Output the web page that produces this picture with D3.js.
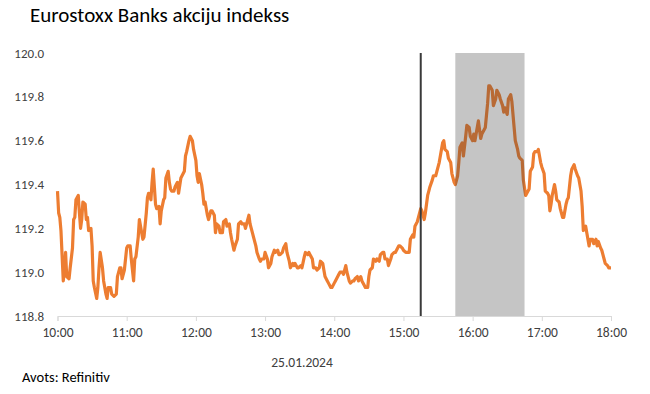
<!DOCTYPE html>
<html>
<head>
<meta charset="utf-8">
<script src="https://cdn.jsdelivr.net/npm/d3@7"></script>
<style>
  html, body { margin: 0; padding: 0; background: #fff; }
  svg { display: block; }
  text { font-family: Carlito, Lato, "Liberation Sans", sans-serif; }
</style>
</head>
<body>
<svg id="chart" width="650" height="394"></svg>
<script>
// ---- Data ----
const title = "Eurostoxx Banks akciju indekss";
const dateLabel = "25.01.2024";
const sourceLabel = "Avots: Refinitiv";
const tradeDate = "2024-01-25";
const startTime = "10:00";
const endTime = "18:00";
const markerTime = "15:15";
const shadeStart = "15:45";
const shadeEnd = "16:45";
const xTickLabels = ["10:00","11:00","12:00","13:00","14:00","15:00","16:00","17:00","18:00"];
const yTicks = [118.8, 119.0, 119.2, 119.4, 119.6, 119.8, 120.0];
const yDomain = [118.8, 120.0];

// minutes after 10:00
const minuteOffsets = [
0,1,2,3,5,6,7,8,10,11,13,14,15,16,18,19,20,21,22,24,25,26,27,29,30,31,32,34,35,36,37,39,40,42,43,44,46,47,49,51,52,54,55,56,58,60,61,63,64,66,
67,68,70,71,73,74,75,77,78,79,81,82,83,84,85,86,88,89,90,92,93,94,96,97,98,99,101,102,104,105,107,108,110,111,112,114,115,117,118,120,121,122,123,125,126,127,128,
130,131,133,134,136,137,138,140,141,143,144,146,147,149,150,151,153,154,156,157,159,160,162,163,164,166,167,169,170,172,173,175,176,177,179,180,182,183,185,186,188,189,191,192,193,195,196,198,199,201,
202,204,205,206,208,209,211,212,214,215,217,218,219,221,222,224,225,227,228,230,231,232,234,235,237,238,240,241,243,244,245,247,248,250,251,253,254,256,257,258,260,261,263,264,266,267,269,270,
271,273,274,276,277,279,280,282,283,284,286,287,289,290,292,293,295,296,297,299,300,302,303,305,306,308,309,310,312,313,315,316,318,319,321,322,323,325,326,328,329,331,332,334,335,336,338,339,341,342,344,345,
347,348,349,351,352,354,355,357,358,360,361,362,364,365,367,368,370,371,373,374,375,377,378,380,381,383,384,386,387,388,390,391,393,394,396,397,399,400,401,403,404,406,407,409,410,412,413,414,416,417,419,420,422,423,425,426,427,428,429,431,432,433,435,436,438,439,441,442,443,445,446,448,449,451,452,454,455,456,458,459,461,462,464,465,467,468,469,471,472,474,475,477,478,480
];
const indexValues = [
119.37,119.27,119.25,119.19,118.96,119.01,119.09,118.98,118.97,119.02,119.11,119.24,119.25,119.33,119.35,119.27,119.20,119.24,119.32,119.31,119.24,119.25,119.19,119.20,119.12,118.96,118.93,118.88,118.93,119.02,119.09,119.02,118.96,118.90,118.88,118.93,118.93,118.90,118.89,118.90,118.98,119.02,119.02,118.97,119.01,119.11,119.12,119.12,119.06,118.96,
119.06,119.07,119.16,119.24,119.18,119.15,119.16,119.27,119.34,119.36,119.33,119.41,119.47,119.39,119.31,119.29,119.30,119.22,119.28,119.33,119.34,119.43,119.46,119.41,119.38,119.37,119.37,119.39,119.41,119.36,119.43,119.44,119.46,119.53,119.55,119.60,119.62,119.60,119.56,119.51,119.44,119.41,119.45,119.40,119.36,119.31,119.32,
119.26,119.24,119.28,119.28,119.26,119.18,119.22,119.21,119.18,119.18,119.23,119.24,119.21,119.22,119.18,119.15,119.10,119.12,119.15,119.22,119.23,119.22,119.22,119.20,119.22,119.26,119.22,119.18,119.16,119.12,119.09,119.06,119.05,119.06,119.06,119.09,119.06,119.02,119.04,119.07,119.10,119.09,119.10,119.08,119.08,119.09,119.11,119.13,119.09,119.05,
119.02,119.04,119.03,119.04,119.02,119.02,119.03,119.02,119.07,119.09,119.08,119.09,119.08,119.06,119.02,119.02,119.01,119.02,119.05,119.04,119.01,118.98,118.96,118.95,118.93,118.93,118.95,118.96,118.98,118.99,119.00,119.00,118.99,119.03,119.00,118.96,118.95,118.96,118.96,118.97,118.98,118.96,118.98,118.96,118.94,118.93,118.93,118.98,
119.01,119.02,119.06,119.05,119.06,119.05,119.08,119.09,119.09,119.06,119.06,119.03,119.06,119.08,119.09,119.09,119.11,119.12,119.12,119.11,119.10,119.09,119.09,119.09,119.15,119.17,119.16,119.21,119.23,119.25,119.29,119.28,119.24,119.27,119.35,119.37,119.39,119.42,119.44,119.44,119.46,119.50,119.53,119.59,119.60,119.56,119.55,119.52,119.50,119.45,119.41,119.40,
119.44,119.50,119.57,119.59,119.53,119.62,119.67,119.66,119.62,119.60,119.63,119.60,119.66,119.69,119.61,119.63,119.65,119.66,119.77,119.85,119.85,119.83,119.76,119.79,119.83,119.81,119.79,119.76,119.73,119.75,119.72,119.79,119.81,119.78,119.66,119.60,119.56,119.53,119.52,119.51,119.42,119.35,119.36,119.38,119.46,119.48,119.54,119.55,119.55,119.56,119.50,119.48,119.45,119.37,119.36,119.35,119.28,119.31,119.35,119.40,119.37,119.33,119.32,119.29,119.25,119.25,119.31,119.33,119.34,119.44,119.47,119.49,119.47,119.44,119.43,119.37,119.30,119.19,119.21,119.18,119.12,119.15,119.15,119.13,119.15,119.12,119.14,119.11,119.10,119.06,119.04,119.03,119.02,119.02
];

// ---- Chart ----
const svg = d3.select("#chart");
const parse = d3.timeParse("%Y-%m-%d %H:%M");
const t0 = parse(tradeDate + " " + startTime);
const t1 = parse(tradeDate + " " + endTime);
const data = minuteOffsets.map((m, i) => ({ t: d3.timeMinute.offset(t0, m), v: indexValues[i] }));

const x = d3.scaleTime().domain([t0, t1]).range([57.5, 611]);
const y = d3.scaleLinear().domain(yDomain).range([316, 53]);

// Title
svg.append("text").attr("x", 30).attr("y", 22).attr("font-size", 21).attr("fill", "#000").text(title);

// Y labels
svg.append("g").selectAll("text").data(yTicks).join("text")
  .attr("x", 44).attr("y", d => y(d)).attr("dy", "0.35em")
  .attr("text-anchor", "end").attr("font-size", 13).attr("fill", "#404040")
  .text(d => d.toFixed(1));

// X axis
const xTickDates = xTickLabels.map(s => parse(tradeDate + " " + s));
const xAxis = d3.axisBottom(x).tickValues(xTickDates).tickFormat(d3.timeFormat("%H:%M")).tickSize(5).tickPadding(6);
const gx = svg.append("g").attr("transform", `translate(0,${y(yDomain[0])})`).call(xAxis);
gx.select(".domain").attr("stroke", "#d9d9d9");
gx.selectAll(".tick line").attr("stroke", "#d9d9d9");
gx.selectAll(".tick text").attr("font-size", 13.5).attr("fill", "#404040").attr("font-family", "Carlito, Lato, sans-serif");

// Line
const line = d3.line().x(d => x(d.t)).y(d => y(d.v));
svg.append("path").datum(data).attr("d", line)
  .attr("fill", "none").attr("stroke", "#ED7D31").attr("stroke-width", 3.2)
  .attr("stroke-linejoin", "round");

// Shaded window (overlay)
const s0 = parse(tradeDate + " " + shadeStart), s1 = parse(tradeDate + " " + shadeEnd);
svg.append("rect").attr("x", x(s0)).attr("y", y(yDomain[1]))
  .attr("width", x(s1) - x(s0)).attr("height", y(yDomain[0]) - y(yDomain[1]))
  .attr("fill", "#404040").attr("fill-opacity", 0.3);

// Marker vertical line
const mt = parse(tradeDate + " " + markerTime);
svg.append("line").attr("x1", x(mt)).attr("x2", x(mt))
  .attr("y1", y(yDomain[1])).attr("y2", y(yDomain[0]))
  .attr("stroke", "#3a3a3a").attr("stroke-width", 2);

// Date label & source
svg.append("text").attr("x", 302).attr("y", 367).attr("text-anchor", "middle")
  .attr("font-size", 13.5).attr("fill", "#404040").text(dateLabel);
svg.append("text").attr("x", 22).attr("y", 382)
  .attr("font-size", 14.5).attr("fill", "#000").text(sourceLabel);
</script>
</body>
</html>
